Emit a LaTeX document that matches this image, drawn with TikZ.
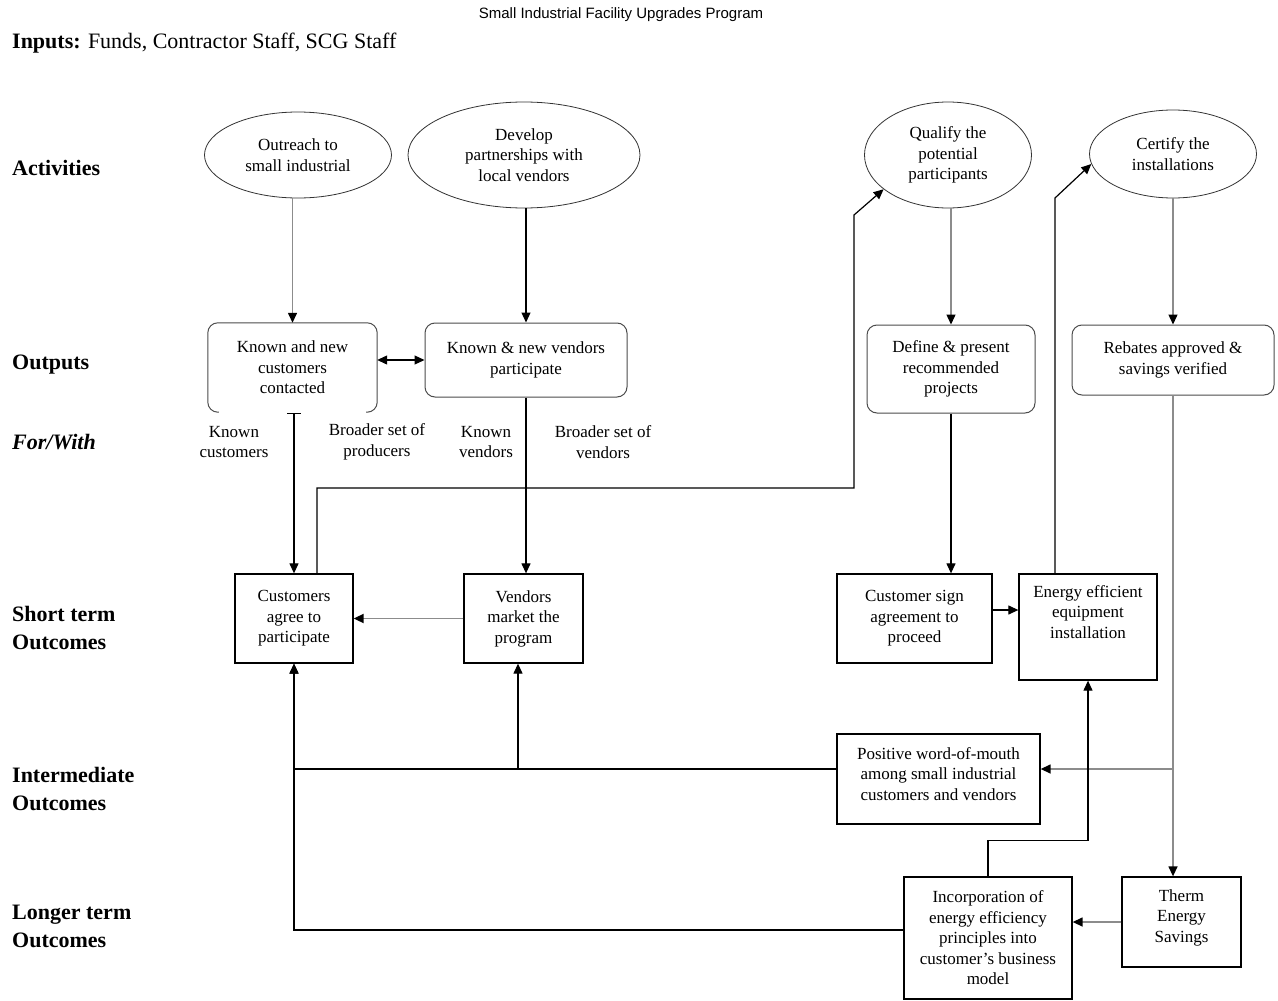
\documentclass[tikz,border=0pt]{standalone}
\usepackage{fontspec}
\setmainfont{Liberation Serif}
\newfontfamily\titlefont{Liberation Sans}
\usetikzlibrary{arrows.meta,shapes.geometric,calc}
\begin{document}
\begin{tikzpicture}[x=1pt,y=-1pt,
  txt/.style={font=\fontsize{17}{20.5}\selectfont, align=center, inner sep=0pt},
  act/.style={txt, ellipse, draw=black!80, line width=0.8pt},
  rbox/.style={txt, rectangle, rounded corners=10pt, draw=black!70, line width=1pt},
  sbox/.style={txt, rectangle, draw=black, line width=1.3pt},
  rowlab/.style={font=\fontsize{22}{28}\selectfont\bfseries, align=left, anchor=west, inner sep=0pt},
  conn/.style={draw=black, line width=1.2pt, -{Triangle[length=10pt,width=9pt]}},
  gconn/.style={draw=black!45, line width=1.4pt, -{Triangle[length=10pt,width=9pt,color=black]}}]
\fill[white] (0,0) rectangle (1278,1001);
\useasboundingbox (0,0) rectangle (1278,1001);

% header
\node[font=\titlefont\fontsize{15}{18}\selectfont, inner sep=0pt] (title) at (621,15) {Small Industrial Facility Upgrades Program};
\node[font=\fontsize{22}{26}\selectfont, anchor=west, inner sep=0pt] (inputs) at (12,43) {\textbf{Inputs:} Funds, Contractor Staff, SCG Staff};

% row labels
\node[rowlab] (ract) at (12,168) {Activities};
\node[rowlab] (rout) at (12,365) {Outputs};
\node[rowlab, font=\fontsize{22}{28}\selectfont\bfseries\itshape] (rfor) at (12,442) {For/With};
\node[rowlab] (rshort) at (12,627.5) {Short term\\Outcomes};
\node[rowlab] (rint) at (12,788.5) {Intermediate\\Outcomes};
\node[rowlab] (rlong) at (12,926) {Longer term\\Outcomes};

% activities
\node[act, minimum width=187pt, minimum height=86pt] (out) at (298,155) {Outreach to\\small industrial};
\node[act, minimum width=232pt, minimum height=106pt] (dev) at (524,155) {Develop\\partnerships with\\local vendors};
\node[act, minimum width=167pt, minimum height=106pt] (qual) at (948,155) {Qualify the\\potential\\participants};
\node[act, minimum width=167pt, minimum height=88pt] (cert) at (1173,154) {Certify the\\installations};

% outputs
\node[txt, minimum width=169pt, minimum height=89pt] (kc) at (292.5,367.5) {Known and new\\customers\\contacted};
\draw[draw=black!70, line width=1pt, rounded corners=10pt] ($(kc.south west)+(11,0)$) -- (kc.south west) -- (kc.north west) -- (kc.north east) -- (kc.south east) -- ++(-11,0);
\node[rbox, minimum width=202pt, minimum height=74pt] (kv) at (526,360) {Known \& new vendors\\participate};
\node[rbox, minimum width=168pt, minimum height=88pt] (def) at (951,369) {Define \& present\\recommended\\projects};
\node[rbox, minimum width=202pt, minimum height=70pt] (reb) at (1173,360) {Rebates approved \&\\savings verified};

% for/with labels
\node[txt] (l1) at (234,442) {Known\\customers};
\node[txt] (l2) at (377,442) {Broader set of\\producers};
\node[txt] (l3) at (486,442) {Known\\vendors};
\node[txt] (l4) at (603,442) {Broader set of\\vendors};

% short term
\node[sbox, minimum width=118pt, minimum height=89pt] (cust) at (294,618.5) {Customers\\agree to\\participate};
\node[sbox, minimum width=119pt, minimum height=89pt] (vend) at (523.5,618.5) {Vendors\\market the\\program};
\node[sbox, minimum width=155pt, minimum height=89pt] (sign) at (914.5,618.5) {Customer sign\\agreement to\\proceed};
\node[sbox, minimum width=138pt, minimum height=106pt] (energy) at (1088,627) {Energy efficient\\equipment\\installation\\[9.5pt]\mbox{}};

% intermediate
\node[sbox, minimum width=203pt, minimum height=90pt] (pos) at (938.5,779) {Positive word-of-mouth\\among small industrial\\customers and vendors\\[-10.5pt]\mbox{}};

% longer term
\node[sbox, minimum width=168pt, minimum height=122pt] (inc) at (988,938) {Incorporation of\\energy efficiency\\principles into\\customer's business\\model};
\node[sbox, minimum width=119pt, minimum height=90pt] (therm) at (1181.5,922) {Therm\\Energy\\Savings\\[-8.5pt]\mbox{}};

% helper coordinates
\coordinate (q1) at (854,488);
\coordinate (q2) at (854,215);
\coordinate (c1) at (1055,198);
\coordinate (wr) at (1173,769);
\coordinate (vb) at (518,769);
\coordinate (se) at ($(sign.east)+(0,-8.5)$);
\coordinate (pw) at ($(pos.west)+(0,-10)$);
\coordinate (iw) at ($(inc.west)+(0,-8)$);

% connectors
\draw[gconn] (kc.north |- out.south) -- (kc.north);
\draw[conn] (kv.north |- dev.south) -- (kv.north);
\draw[conn, {Triangle[length=10pt,width=9pt]}-{Triangle[length=10pt,width=9pt]}] (kc.east |- kv.west) -- (kv.west);
\draw[conn, {Bar[width=14pt]}-{Triangle[length=10pt,width=9pt]}] ($(cust.north |- kc.south)+(0,1)$) -- (cust.north);
\draw[conn] (kv.south) -- (kv.south |- vend.north);
\draw[conn] ($(cust.north)+(23,0)$) |- (q1) -- (q2) -- (qual.208);
\draw[gconn] (def.north |- qual.south) -- (def.north);
\draw[conn] (def.south) -- (def.south |- sign.north);
\draw[gconn] (reb.north |- cert.south) -- (reb.north);
\draw[conn] (se) -- (se -| energy.west);
\draw[conn] ($(energy.north)+(-33,0)$) -- (c1) -- (cert.187);
\draw[gconn, line width=1.8pt] (vend.west) -- (cust.east);
\draw[gconn] (reb.south) -- (reb.south |- therm.north);
\draw[gconn] (wr) -- (wr -| pos.east);
\draw[conn] (pw) -| (cust.south);
\draw[conn] (vb) -- (vb |- vend.south);
\draw[conn] (iw) -| (cust.south);
\draw[conn] (inc.north) -- ++(0,-36) -| (energy.south);
\draw[gconn] (therm.west) -- (therm.west -| inc.east);
\end{tikzpicture}
\end{document}
